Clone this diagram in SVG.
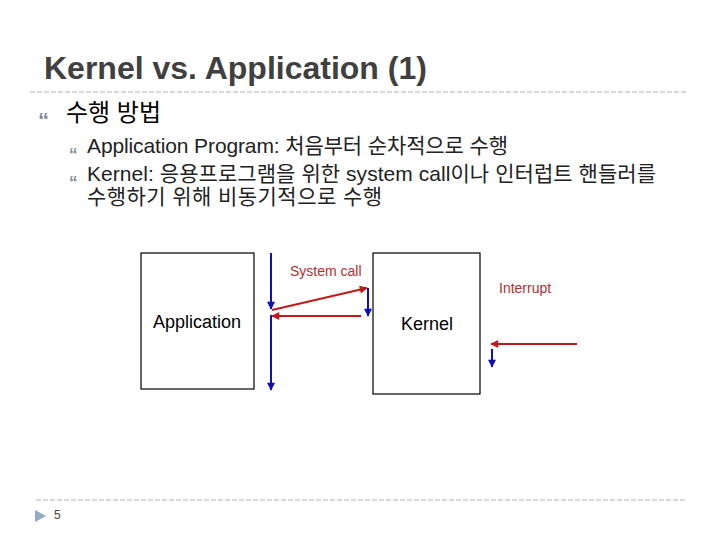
<svg xmlns="http://www.w3.org/2000/svg" width="720" height="540" viewBox="0 0 720 540">
<defs>
<style>
.t{font-family:"Liberation Sans","Noto Sans CJK KR",sans-serif}
.title{font-size:32px;font-weight:bold;fill:#404040}
.bul{font-family:"Liberation Sans",sans-serif;fill:#7f8a98;font-weight:bold}
.body{font-size:21px;fill:#222}
.lbl{font-size:18px;fill:#000}
.red{font-size:14px;fill:#b03030}
.dash{stroke:#b4b4b4;stroke-width:1;stroke-dasharray:5,2;fill:none}
.box{fill:#fff;stroke:#000;stroke-width:1.2}
.blue{stroke:#1010b8;stroke-width:2;fill:none}
.redl{stroke:#c41818;stroke-width:2;fill:none}
</style>
<marker id="ab" viewBox="0 0 10 10" refX="9" refY="5" markerUnits="userSpaceOnUse" markerWidth="9" markerHeight="8" orient="auto">
<path d="M0,0 L10,5 L0,10 Z" fill="#1010b8"/>
</marker>
<marker id="ar" viewBox="0 0 10 10" refX="9" refY="5" markerUnits="userSpaceOnUse" markerWidth="10" markerHeight="8" orient="auto">
<path d="M0,0 L10,5 L0,10 Z" fill="#c41818"/>
</marker>
</defs>
<rect width="720" height="540" fill="#fff"/>
<g id="header">
<text class="t title" x="44" y="79">Kernel vs. Application (1)</text>
<line class="dash" x1="30" y1="92" x2="686" y2="92"/>
</g>
<g id="bullets">
<text class="bul" x="38" y="128" font-size="22">“</text>
<text class="t" x="66" y="121" font-size="24" fill="#000">수행 방법</text>
<text class="bul" x="69" y="160" font-size="17">“</text>
<text class="t body" x="87" y="153" textLength="421" lengthAdjust="spacing">Application Program: 처음부터 순차적으로 수행</text>
<text class="bul" x="69" y="188" font-size="17">“</text>
<text class="t body" x="87" y="181" textLength="569" lengthAdjust="spacing">Kernel: 응용프로그램을 위한 system call이나 인터럽트 핸들러를</text>
<text class="t body" x="87" y="204" textLength="295" lengthAdjust="spacing">수행하기 위해 비동기적으로 수행</text>
</g>
<g id="application">
<rect class="box" x="141" y="253" width="113" height="136"/>
<text class="t lbl" x="197" y="328" text-anchor="middle">Application</text>
</g>
<g id="kernel">
<rect class="box" x="373" y="253" width="107" height="141"/>
<text class="t lbl" x="427" y="330" text-anchor="middle">Kernel</text>
</g>
<g id="connectors">
<line class="blue" x1="271" y1="253" x2="271" y2="309" marker-end="url(#ab)"/>
<line class="blue" x1="271" y1="315" x2="271" y2="390" marker-end="url(#ab)"/>
<line class="redl" x1="272" y1="310" x2="367" y2="288" marker-end="url(#ar)"/>
<line class="blue" x1="368" y1="288" x2="368" y2="316" marker-end="url(#ab)"/>
<line class="redl" x1="361" y1="316" x2="272" y2="316" marker-end="url(#ar)"/>
<line class="redl" x1="577" y1="344" x2="491" y2="344" marker-end="url(#ar)"/>
<line class="blue" x1="492" y1="349" x2="492" y2="367" marker-end="url(#ab)"/>
<text class="t red" x="290" y="276">System call</text>
<text class="t red" x="499" y="293">Interrupt</text>
</g>
<g id="footer">
<line class="dash" x1="36" y1="500" x2="686" y2="500"/>
<polygon points="35,510 35,522 46,516" fill="#94aac6"/>
<text class="t" x="54" y="519" font-size="12" fill="#444">5</text>
</g>
</svg>
